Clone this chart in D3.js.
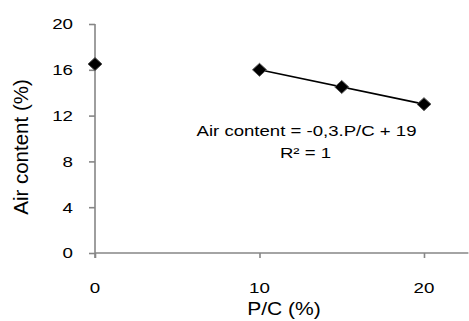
<!DOCTYPE html>
<html>
<head>
<meta charset="utf-8">
<script src="https://cdn.jsdelivr.net/npm/d3@7"></script>
<style>
  html, body { margin: 0; padding: 0; background: #fff; }
  svg { display: block; }
  text { font-family: "Liberation Sans", Arial, sans-serif; fill: #000; }
</style>
</head>
<body>
<svg id="chart" width="469" height="321"></svg>
<script>
// ---- data ----
const pcValues = [0, 10, 15, 20];
const airContent = [16.5, 16, 14.5, 13];
const trendX = [10, 20];
const trendSlope = -0.3;
const trendIntercept = 19;
const xTicks = [0, 10, 20];
const yTicks = [0, 4, 8, 12, 16, 20];
const xTitle = "P/C (%)";
const yTitle = "Air content (%)";
const equationLines = ["Air content = -0,3.P/C + 19", "R² = 1"];

// ---- layout ----
const svg = d3.select("#chart");
const x = d3.scaleLinear().domain([0, 22.7]).range([95, 468.4]);
const y = d3.scaleLinear().domain([0, 20]).range([253, 24]);
const axisColor = "#868686";
const sx = 1.25; // horizontal stretch of text

function label(g, txt, tx, ty, size, anchor, scaleX) {
  return g.append("text")
    .attr("transform", `translate(${tx},${ty}) scale(${scaleX},1)`)
    .attr("text-anchor", anchor)
    .style("font-size", size + "px")
    .text(txt);
}

// y axis
const yAxis = d3.axisLeft(y).tickValues(yTicks).tickSize(6).tickFormat("");
const gy = svg.append("g").attr("transform", `translate(${x(0)},0)`).call(yAxis);
gy.select(".domain").attr("stroke", axisColor).attr("stroke-width", 1.6).attr("d", `M0,${y(20)}V${y(0) + 5}`);
gy.selectAll(".tick line").attr("stroke", axisColor).attr("stroke-width", 1.6);

// x axis
const xAxis = d3.axisBottom(x).tickValues(xTicks).tickSize(5).tickFormat("");
const gx = svg.append("g").attr("transform", `translate(0,${y(0)})`).call(xAxis);
gx.select(".domain").attr("stroke", axisColor).attr("stroke-width", 1.6).attr("d", `M${x(0)},0H${x.range()[1]}`);
gx.selectAll(".tick line").attr("stroke", axisColor).attr("stroke-width", 1.6);

// tick labels
const labels = svg.append("g");
yTicks.forEach(v => label(labels, String(v), 73, y(v) + 5.4, 15, "end", sx));
xTicks.forEach(v => label(labels, String(v), x(v), 293, 15, "middle", sx));

// axis titles
label(labels, xTitle, 284, 315, 18, "middle", 1.17);
svg.append("text")
  .attr("transform", `translate(28,147) rotate(-90)`)
  .attr("text-anchor", "middle")
  .style("font-size", "20.5px")
  .text(yTitle);

// trend line
const line = d3.line().x(d => x(d)).y(d => y(trendSlope * d + trendIntercept));
svg.append("path").datum(trendX).attr("d", line)
  .attr("fill", "none").attr("stroke", "#000").attr("stroke-width", 1.6);

// markers
const diamond = "M0,-6.5L7,0L0,6.5L-7,0Z";
svg.append("g").selectAll("path").data(pcValues.map((v, i) => [v, airContent[i]]))
  .join("path")
  .attr("transform", d => `translate(${x(d[0])},${y(d[1])})`)
  .attr("d", diamond)
  .attr("fill", "#000").attr("stroke", "#555").attr("stroke-width", 1);

// equation
label(labels, equationLines[0], 306.5, 136, 15, "middle", 1.24);
label(labels, equationLines[1], 305.5, 158, 15, "middle", 1.24);
</script>
</body>
</html>
